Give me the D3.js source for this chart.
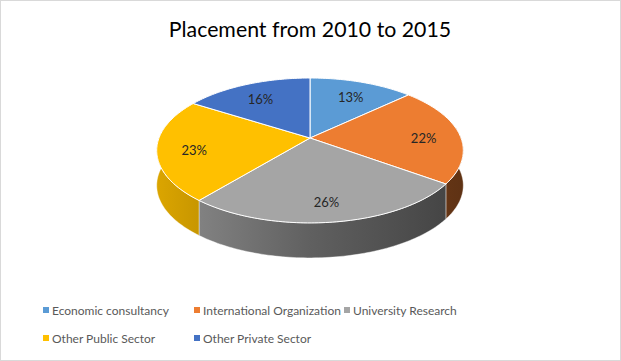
<!DOCTYPE html>
<html>
<head>
<meta charset="utf-8">
<script src="https://d3js.org/d3.v7.min.js"></script>
<style>
  body { margin: 0; background: #fff; }
  svg { display: block; }
</style>
</head>
<body>
<div id="chart"></div>
<script>
// values (percent)
const categories = ["Economic consultancy", "International Organization", "University Research", "Other Public Sector", "Other Private Sector"];
const shares = [13, 22, 26, 23, 16];
const colors = ["#5B9BD5", "#ED7D31", "#A5A5A5", "#FFC000", "#4472C4"];

const width = 621, height = 361;

const svg = d3.select("#chart").append("svg")
    .attr("width", width)
    .attr("height", height);

svg.append("rect")
    .attr("x", 0.5).attr("y", 0.5)
    .attr("width", width - 1).attr("height", height - 1)
    .attr("fill", "#fff")
    .attr("stroke", "#d9d9d9");

svg.append("text")
    .attr("x", 310)
    .attr("y", 37)
    .attr("text-anchor", "middle")
    .style("font-family", "Lato, sans-serif")
    .style("font-size", "21.3px")
    .style("fill", "#000")
    .text("Placement from 2010 to 2015");

// tilted disc with a little perspective
const cx = 310, cy = 138;
const A = 70.3, B = 151, k = -0.172, depth = 35;

function proj(theta, r, z) {
    const u = r * Math.sin(theta), v = -r * Math.cos(theta);
    const d = 1 + k * v;
    return [cx + B * u / d, cy + A * v / d + depth * z];
}

const pie = d3.pie().sort(null).value(d => d)
    .startAngle(0).endAngle(2 * Math.PI);
const arcs = pie(shares);

function arcPoints(a0, a1, r, z) {
    const n = Math.max(2, Math.ceil((a1 - a0) / 0.02));
    const pts = [];
    for (let j = 0; j <= n; j++) {
        pts.push(proj(a0 + (a1 - a0) * j / n, r, z));
    }
    return pts;
}

// front part of the rim, between the two silhouette angles
const visA0 = Math.PI / 2 + Math.asin(k);
const visA1 = 3 * Math.PI / 2 - Math.asin(k);

const defs = svg.append("defs");
const line = d3.line();

const walls = svg.append("g");
arcs.forEach((a, i) => {
    const a0 = Math.max(a.startAngle, visA0), a1 = Math.min(a.endAngle, visA1);
    if (a1 <= a0) return;
    const base = d3.rgb(colors[i]);
    const grad = defs.append("linearGradient")
        .attr("id", "wall" + i)
        .attr("gradientUnits", "userSpaceOnUse")
        .attr("x1", 157).attr("x2", 463).attr("y1", 0).attr("y2", 0);
    [[0, 0.86], [0.5, 0.58], [1, 0.4]].forEach(s => {
        grad.append("stop")
            .attr("offset", s[0])
            .attr("stop-color", d3.rgb(base.r * s[1], base.g * s[1], base.b * s[1]));
    });
    const top = arcPoints(a0, a1, 1, 0);
    const bottom = arcPoints(a0, a1, 1, 1).reverse();
    walls.append("path")
        .attr("d", line(top.concat(bottom)) + "Z")
        .attr("fill", "url(#wall" + i + ")")
        .attr("stroke", "rgba(255,255,255,0.6)")
        .attr("stroke-width", 0.7);
});

const tops = svg.append("g");
arcs.forEach((a, i) => {
    const pts = [proj(0, 0, 0)].concat(arcPoints(a.startAngle, a.endAngle, 1, 0));
    tops.append("path")
        .attr("d", line(pts) + "Z")
        .attr("fill", colors[i])
        .attr("stroke", "#fff")
        .attr("stroke-width", 1)
        .attr("stroke-linejoin", "round");
});

// data labels
const labels = svg.append("g")
    .style("font-family", "Lato, sans-serif")
    .style("font-size", "13px")
    .style("fill", "#262626");
arcs.forEach((a, i) => {
    const mid = (a.startAngle + a.endAngle) / 2;
    const p = proj(mid, 0.76, 0);
    labels.append("text")
        .attr("x", p[0])
        .attr("y", p[1] + 8)
        .attr("text-anchor", "middle")
        .text(d3.format(".0%")(shares[i] / d3.sum(shares)));
});

// legend
const legendX = [43, 194, 344];
const legendY = [310, 338];
const legend = svg.append("g")
    .style("font-family", "Lato, sans-serif")
    .style("font-size", "12px")
    .style("fill", "#595959");
categories.forEach((c, i) => {
    const col = i % 3, row = Math.floor(i / 3);
    const g = legend.append("g")
        .attr("transform", "translate(" + legendX[col] + "," + legendY[row] + ")");
    g.append("rect")
        .attr("x", 0).attr("y", -3)
        .attr("width", 6).attr("height", 6)
        .attr("fill", colors[i]);
    g.append("text")
        .attr("x", 9)
        .attr("y", 4.5)
        .text(c);
});
</script>
</body>
</html>
